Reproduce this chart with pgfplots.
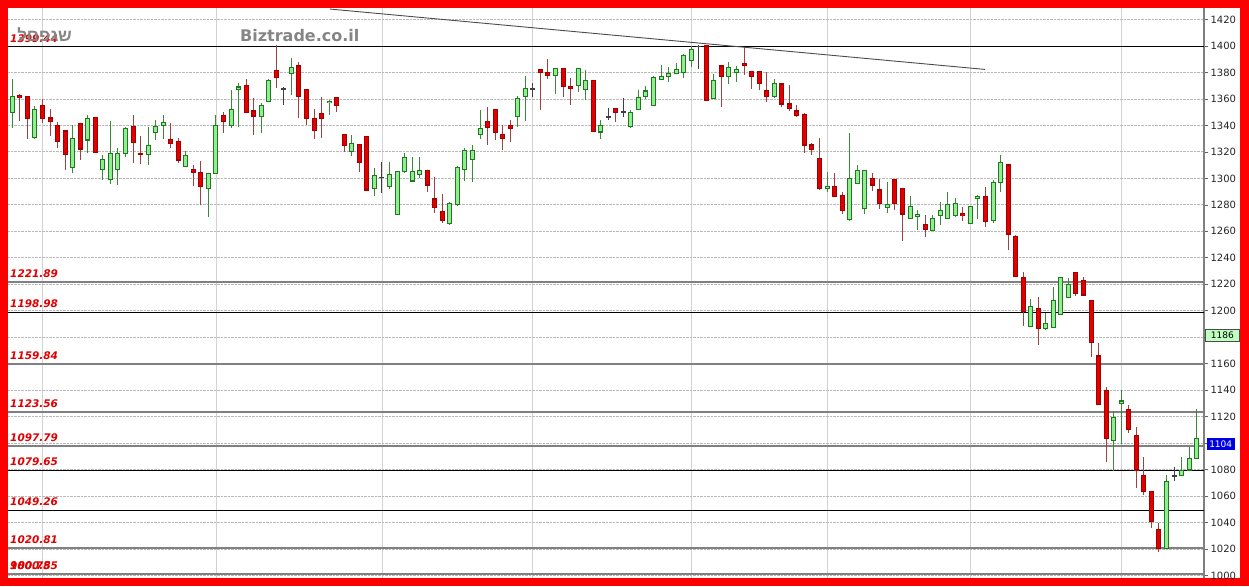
\documentclass[border=0pt]{standalone}
\usepackage{fontspec}
\setmainfont{DejaVu Sans}
\newfontfamily\hebfont[Script=Hebrew]{Liberation Sans}
\usepackage{pgfplots}
\usepackage{pgfplotstable}
\pgfplotsset{compat=1.18}
\TeXXeTstate=1

\definecolor{gfill}{HTML}{90EE90}
\definecolor{gedge}{HTML}{1F7A1F}
\definecolor{gwick}{HTML}{3A8A3A}
\definecolor{rfill}{HTML}{E00000}
\definecolor{redge}{HTML}{A00000}
\definecolor{rwick}{HTML}{A04040}
\definecolor{dojic}{HTML}{404040}
\definecolor{lvlgray}{HTML}{808080}
\definecolor{lblred}{HTML}{E00000}
\definecolor{wmgray}{HTML}{858585}

% x O H L C
\pgfplotstableread{
x O H L C
0 1350 1375 1338 1362
3 1331 1355 1330 1352
8 1308 1340 1304 1330
10 1329 1348 1319 1345
12 1307 1318 1299 1314
13 1299 1343 1296 1319
14 1307 1323 1295 1319
15 1319 1339 1316 1338
18 1318 1339 1310 1325
19 1335 1344 1329 1339
20 1340 1348 1330 1342
23 1309 1321 1309 1317
26 1292 1304 1271 1304
27 1304 1348 1304 1340
29 1340 1367 1338 1352
30 1367 1372 1339 1369
33 1347 1357 1334 1355
34 1358 1375 1358 1374
37 1379 1391 1363 1384
42 1357 1359 1348 1358
45 1320 1333 1317 1326
48 1292 1308 1287 1302
50 1294 1312 1292 1303
51 1273 1305 1273 1305
52 1305 1319 1304 1316
53 1298 1316 1297 1305
54 1303 1316 1300 1306
58 1266 1282 1265 1281
59 1280 1309 1279 1308
60 1307 1323 1298 1321
61 1314 1325 1297 1321
62 1333 1352 1330 1338
67 1347 1362 1339 1360
68 1362 1377 1343 1368
72 1378 1383 1364 1383
75 1370 1383 1365 1383
76 1367 1382 1359 1374
78 1335 1344 1330 1340
82 1339 1352 1338 1350
83 1352 1367 1352 1361
84 1362 1370 1360 1366
85 1355 1377 1355 1376
86 1375 1386 1375 1377
87 1377 1384 1373 1379
88 1379 1387 1379 1382
89 1380 1394 1376 1393
90 1389 1400 1384 1397
93 1360 1379 1360 1374
95 1377 1388 1371 1384
96 1380 1385 1373 1382
101 1362 1375 1361 1372
108 1292.5 1305 1290 1294.2
111 1269 1334 1268 1300
112 1296 1310 1296 1306
113 1277 1306 1273 1306
116 1278 1297.5 1274 1280
119 1270 1287 1269 1279
120 1271 1276 1261 1273
122 1260.5 1272 1260 1270
123 1272 1282 1265 1276
124 1270 1290 1270 1280
125 1272 1285 1271 1281
127 1266 1279 1266 1279
128 1285 1287.5 1269 1286.6
130 1268 1299 1266 1297
131 1297 1318 1290 1312
135 1188 1209 1188 1203
137 1186.7 1198 1185.5 1190.5
138 1187 1218 1187 1208
139 1197 1225 1197 1225
140 1210 1225 1210 1219.5
146 1101.8 1124.3 1079.2 1119.2
147 1129.6 1140.1 1099.3 1131.8
153 1020.5 1075.9 1020.5 1070.9
155 1075.2 1089.8 1075.2 1079
156 1079.7 1096.8 1079.7 1088.3
157 1088.5 1125.5 1088.5 1103.6
}\greendata

\pgfplotstableread{
x O H L C
1 1362.5 1364 1343 1361
2 1362 1362.5 1330 1345
4 1355.4 1359.7 1341.6 1345.4
5 1345.6 1352.4 1332.3 1343.1
6 1339.8 1342.8 1322.7 1327.7
7 1335.8 1336 1306.3 1317.7
9 1341.1 1341.5 1313.9 1322.2
11 1345.9 1346 1319 1319.4
16 1339.1 1347.9 1311.4 1327.2
17 1318.8 1332.3 1310.9 1318.2
21 1329.7 1341.6 1322.7 1326
22 1327.7 1330.2 1311.4 1313.9
24 1306.8 1310.1 1294.2 1304.6
25 1304.6 1313.4 1279.9 1294.2
28 1347.4 1350.4 1334 1342.8
31 1370 1374.8 1349.1 1349.9
32 1350.9 1360.5 1332.8 1347.1
35 1381.4 1400.8 1368 1376.3
38 1384.9 1388.2 1345.4 1361.7
39 1367.3 1367.5 1340.3 1344.9
40 1344.9 1352.2 1329.7 1336.5
41 1349.1 1361.7 1330.2 1344.9
43 1361.2 1361.5 1350.4 1354.9
44 1333.3 1333.6 1320.2 1324.5
46 1325.7 1325.9 1305.1 1311.9
47 1331.5 1331.7 1290.7 1291.2
55 1305.6 1305.8 1290 1295
56 1284.4 1301.3 1274.1 1278.1
57 1274.9 1288.1 1266.5 1268.5
63 1342.8 1354.2 1325.2 1338.6
64 1352.2 1352.4 1329 1334.5
65 1333.3 1340.3 1321.4 1330.2
66 1339.8 1344.1 1327.7 1337.8
70 1382.4 1382.6 1351.6 1380.1
71 1380.1 1389.9 1375 1378.1
73 1383.1 1383.3 1361.2 1369.3
74 1369.3 1375.6 1355.4 1368
77 1373.8 1374 1335 1335.3
80 1352.9 1353 1342.8 1349.6
92 1400 1400.2 1358.7 1358.7
94 1384.9 1385 1353.7 1376.8
97 1386.9 1399.5 1378.1 1385.4
98 1380.6 1380.8 1367.3 1376.8
99 1380.6 1380.8 1366.8 1371.8
100 1366.3 1380.6 1357.4 1362.2
102 1371.3 1371.5 1353.7 1356.2
103 1356.2 1370.5 1351.1 1352.9
104 1350.9 1355.4 1346.6 1347.4
105 1348.4 1349.6 1319.4 1325.2
106 1325.2 1327 1317.7 1321.9
107 1315.1 1330.2 1291.2 1292.5
109 1294.2 1304.3 1285.6 1286.6
110 1287.4 1289.9 1272.8 1275.6
114 1300.1 1304.3 1290.7 1295
115 1291.2 1299.3 1276.6 1281.1
117 1298.8 1299.3 1276.1 1281.1
118 1292.5 1292.7 1253 1273.1
121 1265.3 1272.6 1255.5 1261.5
126 1273.1 1278.6 1268.1 1271.8
129 1286.6 1293.2 1263 1267.3
132 1310.1 1310.3 1245.9 1258
133 1256 1257.2 1225.8 1225.8
134 1225.2 1229.5 1188.5 1199.3
136 1201.8 1210.6 1174.1 1186.7
141 1228.8 1229 1211.1 1212.7
142 1222.7 1225.2 1211.1 1211.9
143 1207.6 1207.8 1165.3 1175.9
144 1165.8 1175.4 1129.5 1129.5
145 1140.1 1142.6 1086 1103.6
148 1125.5 1128.8 1107.4 1110.4
149 1106.1 1112.4 1065.8 1079.7
150 1075.2 1089.7 1060.8 1063.3
151 1063.3 1063.5 1035.6 1040.6
152 1034.9 1039.4 1018 1020.5
}\reddata

\pgfplotstableread{
x O H L C
36 1367.6 1369.3 1355.4 1367.6
49 1301 1312.6 1289 1301
69 1367.5 1371.8 1361.7 1367.5
79 1346.6 1352.9 1344.1 1346.6
81 1350.4 1360.5 1346.6 1350.4
91 1399.7 1400.5 1382.4 1399.7
154 1075.2 1081.7 1071.6 1075.2
}\dojidata

\newcommand{\wicks}[2]{%
  \addplot[draw=none, mark=none, forget plot,
    error bars/.cd, y dir=both, y explicit, error mark=none,
    error bar style={line width=1pt, draw=#2, solid}]
    table[x=x, y expr={(\thisrow{H}+\thisrow{L})/2}, y error expr={(\thisrow{H}-\thisrow{L})/2}] {#1};}
\newcommand{\bodies}[3]{%
  \addplot[draw=none, mark=none, forget plot,
    error bars/.cd, y dir=both, y explicit, error mark=none,
    error bar style={line width=5pt, draw=#2, solid}]
    table[x=x, y expr={(\thisrow{O}+\thisrow{C})/2}, y error expr={abs(\thisrow{C}-\thisrow{O})/2+0.4}] {#1};
  \addplot[draw=none, mark=none, forget plot,
    error bars/.cd, y dir=both, y explicit, error mark=none,
    error bar style={line width=3pt, draw=#3, solid}]
    table[x=x, y expr={(\thisrow{O}+\thisrow{C})/2}, y error expr={max(abs(\thisrow{C}-\thisrow{O})/2-0.4,0)}] {#1};}
\newcommand{\lvllabel}[2]{%
  \node[anchor=base west, inner sep=0, xshift=2pt, yshift=4.5pt, text=lblred,
        font=\bfseries\itshape\fontsize{10.5}{12}\selectfont] at (axis cs:-0.57,#1) {#2};}

\begin{document}
\begin{tikzpicture}
\useasboundingbox (0,0) rectangle (1249pt,586pt);
\fill[red] (0,0) rectangle (1249pt,586pt);
\fill[white] (8pt,8pt) rectangle (1240pt,578pt);
\begin{axis}[
  at={(8pt,8pt)}, anchor=south west,
  scale only axis, width=1196pt, height=570pt,
  xmin=-0.57, xmax=157.97, ymin=998.1, ymax=1428.7,
  axis y line*=right, axis x line*=bottom,
  x axis line style={draw=none},
  y axis line style={draw=gray, line width=1.3pt},
  xtick={4,27,49,69,90,108,127,147}, xticklabels={},
  xtick style={draw=none},
  ytick={1000,1020,1040,1060,1080,1120,1140,1160,1200,1220,1240,1260,1280,1300,1320,1340,1360,1380,1400,1420},
  extra y ticks={1100,1180}, extra y tick labels={},
  minor y tick num=1,
  tick align=outside,
  major tick length=4pt, minor tick length=2pt,
  ytick style={draw=gray!80!black, line width=0.6pt},
  yticklabel style={font=\fontsize{10}{12}\selectfont, text=black!85, xshift=-1pt},
  /pgf/number format/assume math mode=true,
  /pgf/number format/1000 sep={},
  xmajorgrids, ymajorgrids,
  x grid style={draw=gray!35, line width=0.8pt},
  y grid style={draw=gray!55, densely dotted, line width=0.8pt},
  clip=false,
]
% support / resistance levels
\addplot[black, line width=1pt, forget plot] coordinates {(-0.57,1399.44) (157.97,1399.44)};
\addplot[lvlgray, line width=1.8pt, forget plot] coordinates {(-0.57,1221.89) (157.97,1221.89)};
\addplot[black, line width=1pt, forget plot] coordinates {(-0.57,1198.98) (157.97,1198.98)};
\addplot[lvlgray, line width=1.8pt, forget plot] coordinates {(-0.57,1159.84) (157.97,1159.84)};
\addplot[lvlgray, line width=1.8pt, forget plot] coordinates {(-0.57,1123.56) (157.97,1123.56)};
\addplot[lvlgray, line width=1.8pt, forget plot] coordinates {(-0.57,1097.79) (157.97,1097.79)};
\addplot[black, line width=1pt, forget plot] coordinates {(-0.57,1079.65) (157.97,1079.65)};
\addplot[black, line width=1pt, forget plot] coordinates {(-0.57,1049.26) (157.97,1049.26)};
\addplot[lvlgray, line width=1.8pt, forget plot] coordinates {(-0.57,1020.81) (157.97,1020.81)};
\addplot[lvlgray, line width=1.8pt, forget plot] coordinates {(-0.57,1000.85) (157.97,1000.85)};
% trend line
\addplot[black!70, line width=0.9pt, forget plot] coordinates {(42.1,1427.9) (128.94,1382.3)};
% candles
\wicks{\greendata}{gwick}
\wicks{\reddata}{rwick}
\wicks{\dojidata}{dojic}
\bodies{\greendata}{gedge}{gfill}
\bodies{\reddata}{redge}{rfill}
\bodies{\dojidata}{dojic}{dojic}
% level labels
\lvllabel{1399.44}{1399.44}
\lvllabel{1221.89}{1221.89}
\lvllabel{1198.98}{1198.98}
\lvllabel{1159.84}{1159.84}
\lvllabel{1123.56}{1123.56}
\lvllabel{1097.79}{1097.79}
\lvllabel{1079.65}{1079.65}
\lvllabel{1049.26}{1049.26}
\lvllabel{1020.81}{1020.81}
\lvllabel{1000.85}{1000.85}
\lvllabel{1000.85}{980.75}
% last-price boxes
\node[anchor=north west, fill=green!25, draw=gray!60!black, line width=0.6pt,
      minimum width=34pt, minimum height=12pt, inner sep=1pt, text=black,
      font=\fontsize{9}{10}\selectfont, xshift=1pt] at (axis cs:157.97,1186) {1186\hspace{12pt}};
\node[anchor=north west, fill=blue!90!black, draw=none,
      minimum width=28pt, minimum height=12pt, inner sep=1pt, text=white,
      font=\fontsize{9}{10}\selectfont, xshift=2.5pt] at (axis cs:157.97,1104) {1104};
\end{axis}
% watermark and chart name
\node[anchor=base west, inner sep=0, text=wmgray, font=\bfseries\fontsize{16}{18}\selectfont] at (240pt,544.3pt) {Biztrade.co.il};
\node[anchor=base east, inner sep=0, text=wmgray, font=\hebfont\bfseries\fontsize{17}{19}\selectfont] at (72pt,544pt) {\beginR שגפםל\endR};
\end{tikzpicture}
\end{document}
